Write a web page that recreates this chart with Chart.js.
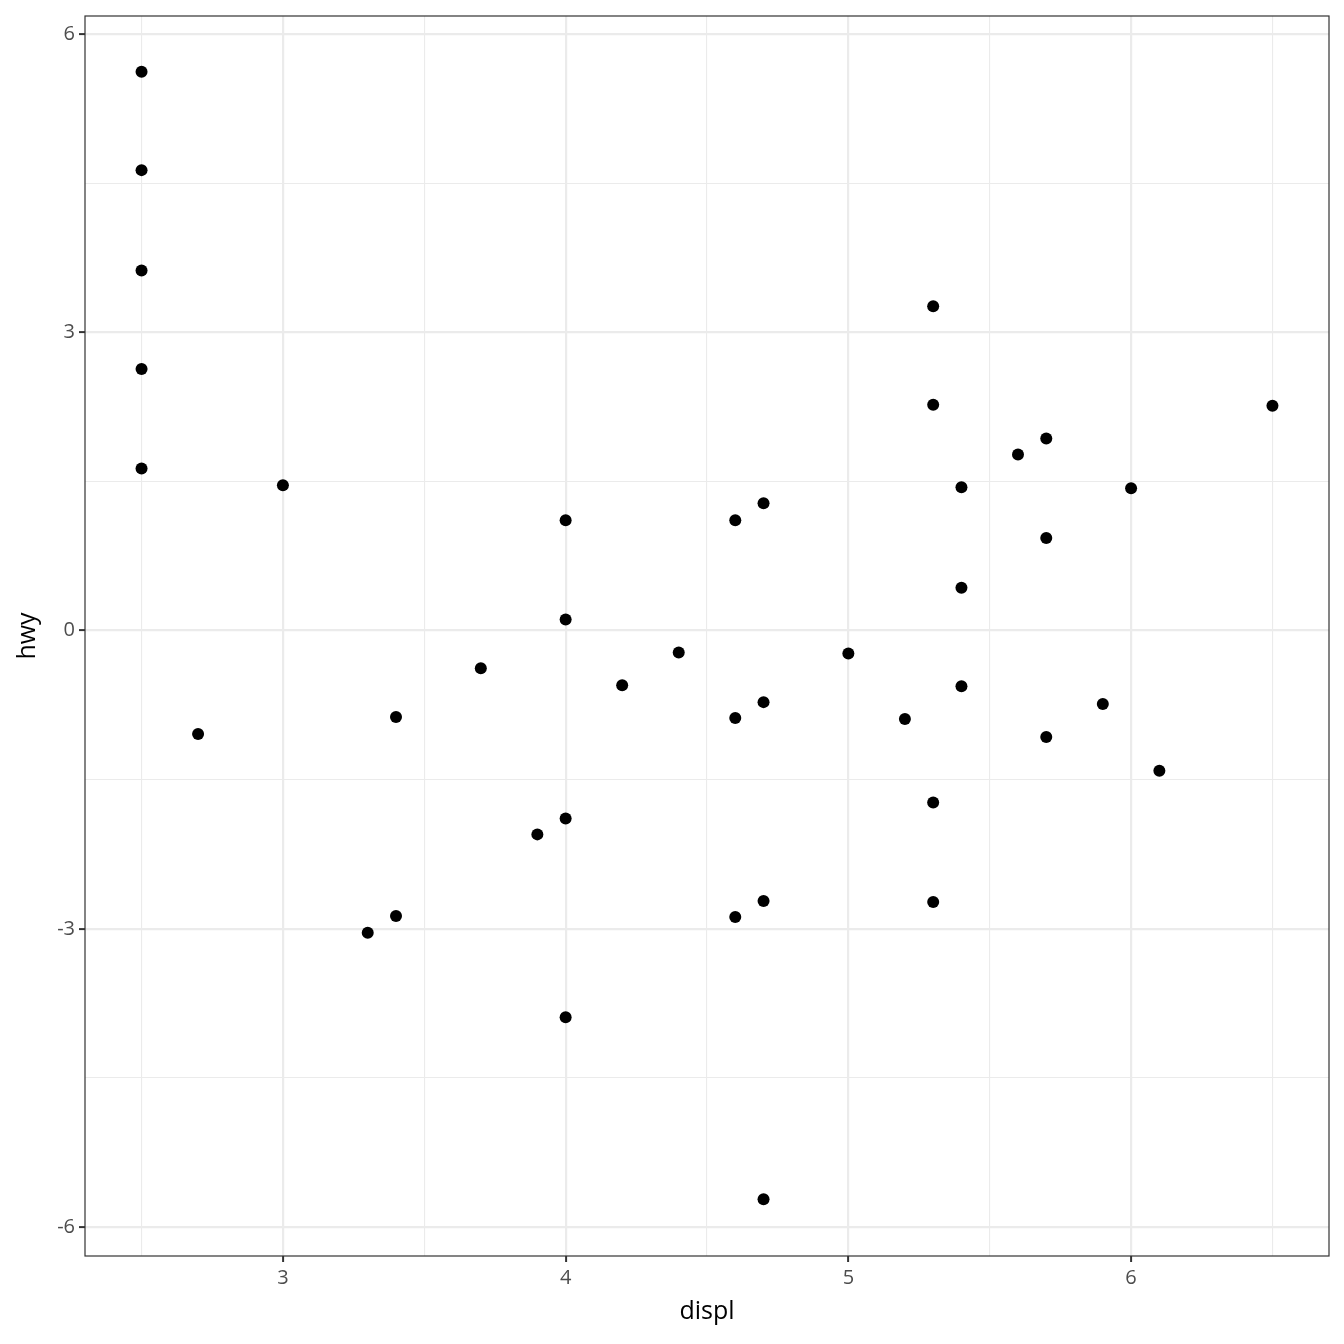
<!DOCTYPE html>
<html>
<head>
<meta charset="utf-8">
<script src="https://cdn.jsdelivr.net/npm/chart.js@4"></script>
<style>
  html, body { margin: 0; padding: 0; background: #fff; }
  #wrap { width: 1344px; height: 1344px; }
</style>
</head>
<body>
<div id="wrap"><canvas id="plot"></canvas></div>
<script>
// data
const displ = [2.5, 2.5, 2.5, 2.5, 2.5, 2.7, 3.0, 3.3, 3.4, 3.4, 3.7, 3.9,
  4.0, 4.0, 4.0, 4.0, 4.2, 4.4, 4.6, 4.6, 4.6, 4.7, 4.7, 4.7, 4.7,
  5.0, 5.2, 5.3, 5.3, 5.3, 5.3, 5.4, 5.4, 5.4, 5.6, 5.7, 5.7, 5.7,
  5.9, 6.0, 6.1, 6.5];
const hwy = [5.62, 4.63, 3.62, 2.63, 1.63, -1.04, 1.46, -3.04, -0.87, -2.87, -0.38, -2.05,
  1.11, 0.11, -1.89, -3.89, -0.55, -0.22, 1.11, -0.88, -2.88, 1.28, -0.72, -2.72, -5.72,
  -0.23, -0.89, 3.26, 2.27, -1.73, -2.73, 1.44, 0.43, -0.56, 1.77, 1.93, 0.93, -1.07,
  -0.74, 1.43, -1.41, 2.26];

const xTicks = [2.5, 3, 3.5, 4, 4.5, 5, 5.5, 6, 6.5];
const yTicks = [-6, -4.5, -3, -1.5, 0, 1.5, 3, 4.5, 6];

const isMajor = v => Number.isInteger(v);
const gridColor = '#EBEBEB';
const tickFont = { family: 'Open Sans', size: 20 };

// panel border like theme_bw
const frame = {
  id: 'frame',
  afterDraw(chart) {
    const a = chart.chartArea, ctx = chart.ctx;
    ctx.save();
    ctx.strokeStyle = '#333333';
    ctx.lineWidth = 1.2;
    ctx.strokeRect(a.left, a.top, a.right - a.left, a.bottom - a.top);
    ctx.restore();
  }
};

const ctx = document.getElementById('plot').getContext('2d');
const chart = new Chart(ctx, {
  type: 'scatter',
  data: {
    datasets: [{
      data: displ.map((x, i) => ({ x: x, y: hwy[i] })),
      backgroundColor: '#000000',
      borderWidth: 0,
      pointRadius: 6
    }]
  },
  options: {
    responsive: true,
    maintainAspectRatio: false,
    animation: false,
    layout: { padding: { top: 15, right: 15, left: 13, bottom: 17 } },
    plugins: { legend: { display: false }, tooltip: { enabled: false } },
    scales: {
      x: {
        type: 'linear',
        min: 2.3,
        max: 6.7,
        afterBuildTicks: s => { s.ticks = xTicks.map(v => ({ value: v })); },
        afterFit: s => { s.height = 1344 - 1256 - 17; },
        ticks: {
          autoSkip: false,
          maxRotation: 0,
          color: '#4D4D4D',
          font: tickFont,
          padding: 4,
          callback: v => isMajor(v) ? String(v) : ''
        },
        grid: {
          color: gridColor,
          lineWidth: c => isMajor(c.tick.value) ? 2.2 : 1.1,
          tickColor: c => isMajor(c.tick.value) ? '#333333' : 'rgba(0,0,0,0)',
          tickLength: 6,
          tickWidth: 2
        },
        border: { display: false },
        title: { display: true, text: 'displ', color: '#000', font: { family: 'Open Sans', size: 25 }, padding: 0 }
      },
      y: {
        type: 'linear',
        min: -6.29,
        max: 6.18,
        afterBuildTicks: s => { s.ticks = yTicks.map(v => ({ value: v })); },
        afterFit: s => { s.width = 85 - 13; },
        ticks: {
          autoSkip: false,
          color: '#4D4D4D',
          font: tickFont,
          padding: 4,
          callback: v => isMajor(v) ? String(v) : ''
        },
        grid: {
          color: gridColor,
          lineWidth: c => isMajor(c.tick.value) ? 2.2 : 1.1,
          tickColor: c => isMajor(c.tick.value) ? '#333333' : 'rgba(0,0,0,0)',
          tickLength: 6,
          tickWidth: 2
        },
        border: { display: false },
        title: { display: true, text: 'hwy', color: '#000', font: { family: 'Open Sans', size: 25 }, padding: 0 }
      }
    }
  },
  plugins: [frame]
});
</script>
</body>
</html>
